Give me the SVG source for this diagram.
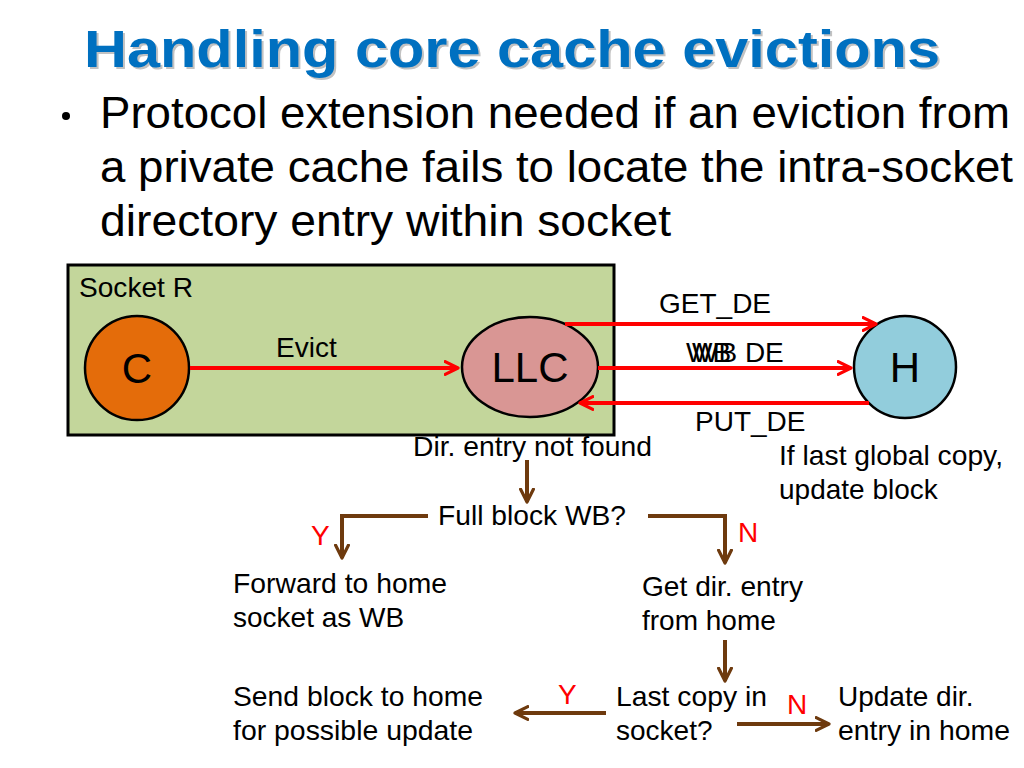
<svg xmlns="http://www.w3.org/2000/svg" width="1024" height="768" viewBox="0 0 1024 768">
<defs>
<marker id="ar" viewBox="0 0 10 10" refX="9" refY="5" markerWidth="4" markerHeight="4" orient="auto" markerUnits="strokeWidth">
<path d="M1,1 L9,5 L1,9" fill="none" stroke="#FF0000" stroke-width="2" stroke-linecap="round" stroke-linejoin="round"/>
</marker>
<marker id="ab" viewBox="0 0 10 10" refX="9" refY="5" markerWidth="4" markerHeight="4" orient="auto" markerUnits="strokeWidth">
<path d="M1,1 L9,5 L1,9" fill="none" stroke="#6E3A0E" stroke-width="2" stroke-linecap="round" stroke-linejoin="round"/>
</marker>
</defs>
<style>
.t{font-family:"Liberation Sans",Arial,sans-serif;font-size:28px;fill:#000}
.red{font-family:"Liberation Sans",Arial,sans-serif;font-size:28px;fill:#FF0000}
.body{font-family:"Liberation Sans Narrow","Liberation Sans",sans-serif;font-size:45px;fill:#000}
.big{font-family:"Liberation Sans",Arial,sans-serif;font-size:42px;fill:#000}
.title{font-family:"Liberation Sans",Arial,sans-serif;font-weight:bold;font-size:51px}
.rl{fill:none;stroke:#FF0000;stroke-width:4;marker-end:url(#ar)}
.bl{fill:none;stroke:#6E3A0E;stroke-width:4;marker-end:url(#ab)}
</style>
<rect width="1024" height="768" fill="#fff"/>
<g id="title">
<text class="title" x="86" y="69" fill="#9a9a9a" opacity="0.6" textLength="856" lengthAdjust="spacingAndGlyphs">Handling core cache evictions</text>
<text class="title" x="84" y="67" fill="#0070C0" textLength="856" lengthAdjust="spacingAndGlyphs">Handling core cache evictions</text>
</g>
<g id="bullets">
<circle cx="66" cy="116" r="4" fill="#000"/>
<text class="body" x="100" y="128" textLength="910" lengthAdjust="spacingAndGlyphs">Protocol extension needed if an eviction from</text>
<text class="body" x="100" y="182" textLength="913" lengthAdjust="spacingAndGlyphs">a private cache fails to locate the intra-socket</text>
<text class="body" x="100" y="236" textLength="571" lengthAdjust="spacingAndGlyphs">directory entry within socket</text>
</g>
<g id="socket">
<rect x="68" y="265" width="546" height="170" fill="#C3D69B" stroke="#000" stroke-width="3"/>
<text class="t" x="79" y="297" textLength="114" lengthAdjust="spacingAndGlyphs">Socket R</text>
</g>
<g id="C">
<circle cx="137" cy="368" r="52" fill="#E46C0A" stroke="#000" stroke-width="2.5"/>
<text class="big" x="137" y="383" text-anchor="middle">C</text>
</g>
<g id="LLC">
<ellipse cx="530" cy="367" rx="68" ry="50" fill="#D99694" stroke="#000" stroke-width="2.5"/>
<text class="big" x="530" y="382" text-anchor="middle">LLC</text>
</g>
<g id="H">
<circle cx="905" cy="367" r="51" fill="#92CDDC" stroke="#000" stroke-width="2.5"/>
<text class="big" x="905" y="382" text-anchor="middle">H</text>
</g>
<g id="connectors">
<line class="rl" x1="190" y1="368" x2="458" y2="368"/>
<line class="rl" x1="565" y1="324" x2="876" y2="324"/>
<line class="rl" x1="598" y1="368" x2="851" y2="368"/>
<line class="rl" x1="869" y1="403" x2="580" y2="403"/>
<line class="bl" x1="527" y1="460" x2="527" y2="502"/>
<polyline class="bl" points="428,516 342,516 342,558"/>
<polyline class="bl" points="648,516 725,516 725,563"/>
<line class="bl" x1="725" y1="640" x2="725" y2="681"/>
<line class="bl" x1="606" y1="713" x2="515" y2="713"/>
<line class="bl" x1="737" y1="724" x2="829" y2="724"/>
</g>
<g id="labels">
<text class="t" x="276" y="357">Evict</text>
<text class="t" x="659" y="313">GET_DE</text>
<text class="t" x="686" y="362">WB<tspan x="692">WB DE</tspan></text>
<text class="t" x="695" y="431">PUT_DE</text>
<text class="t" x="413" y="456" textLength="239" lengthAdjust="spacingAndGlyphs">Dir. entry not found</text>
<text class="t" x="779" y="465" textLength="224" lengthAdjust="spacingAndGlyphs">If last global copy,</text>
<text class="t" x="779" y="499">update block</text>
<text class="t" x="438" y="525" textLength="188" lengthAdjust="spacingAndGlyphs">Full block WB?</text>
<text class="red" x="311" y="545">Y</text>
<text class="red" x="738" y="542">N</text>
<text class="t" x="233" y="593" textLength="214" lengthAdjust="spacingAndGlyphs">Forward to home</text>
<text class="t" x="233" y="627">socket as WB</text>
<text class="t" x="642" y="596" textLength="161" lengthAdjust="spacingAndGlyphs">Get dir. entry</text>
<text class="t" x="642" y="630">from home</text>
<text class="t" x="233" y="706" textLength="250" lengthAdjust="spacingAndGlyphs">Send block to home</text>
<text class="t" x="233" y="740" textLength="240" lengthAdjust="spacingAndGlyphs">for possible update</text>
<text class="red" x="558" y="704">Y</text>
<text class="t" x="616" y="706" textLength="151" lengthAdjust="spacingAndGlyphs">Last copy in</text>
<text class="t" x="616" y="740">socket?</text>
<text class="red" x="787" y="714">N</text>
<text class="t" x="838" y="706">Update dir.</text>
<text class="t" x="838" y="740" textLength="172" lengthAdjust="spacingAndGlyphs">entry in home</text>
</g>
</svg>
